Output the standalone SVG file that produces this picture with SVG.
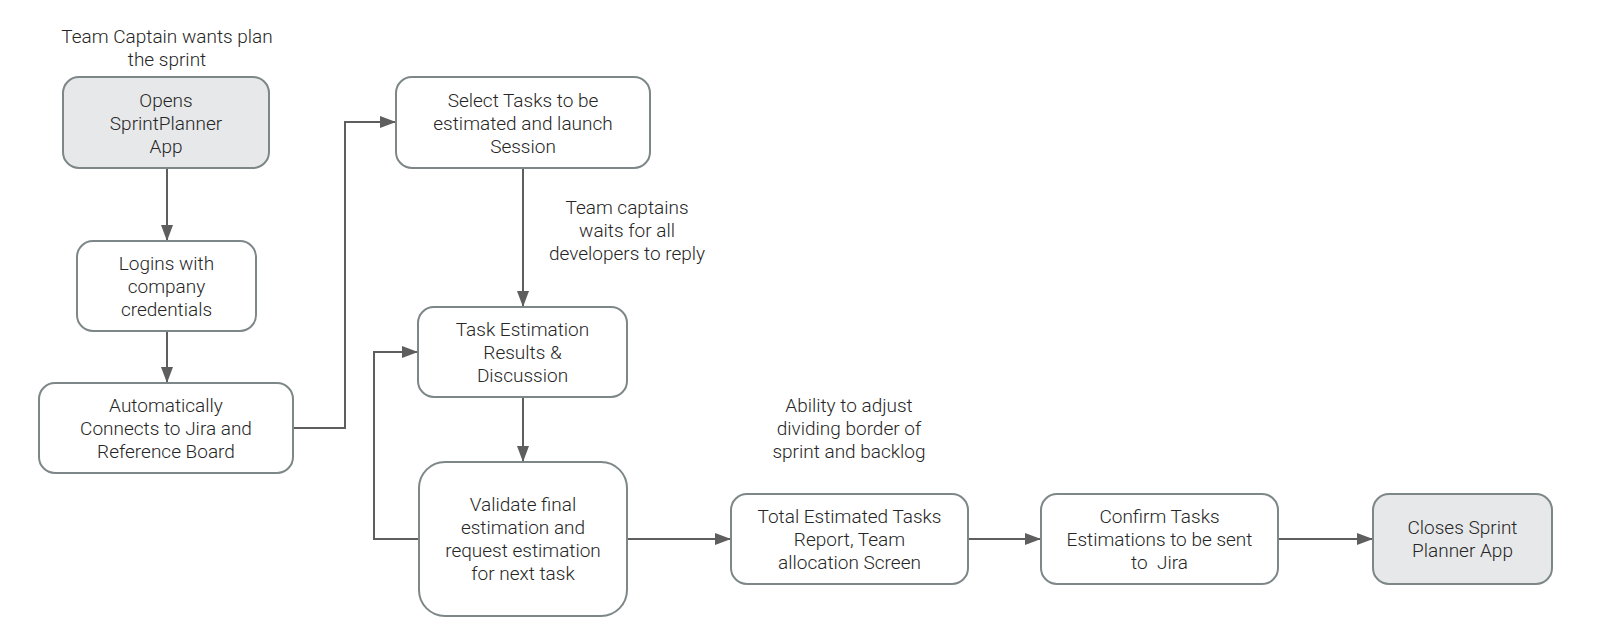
<svg xmlns="http://www.w3.org/2000/svg" width="1600" height="637" viewBox="0 0 1600 637">
<style>
.box{fill:#ffffff;stroke:#7e8788;stroke-width:2}
.gray{fill:#e6e8e9}
text{font-family:Roboto,"Liberation Sans",sans-serif;font-size:19px;font-weight:300;fill:#262626;text-anchor:middle}
.conn{fill:none;stroke:#5e5e5e;stroke-width:2}
</style>
<defs>
<marker id="ah" viewBox="0 0 16 12" refX="16" refY="6" markerWidth="16" markerHeight="12" markerUnits="userSpaceOnUse" orient="auto">
<path d="M0,0 L16,6 L0,12 Z" fill="#5e5e5e"/>
</marker>
</defs>
<rect width="1600" height="637" fill="#ffffff"/>
<g id="connectors">
<path class="conn" d="M167,168 V241" marker-end="url(#ah)"/>
<path class="conn" d="M167,331 V383" marker-end="url(#ah)"/>
<path class="conn" d="M293,428 H345 V122 H396" marker-end="url(#ah)"/>
<path class="conn" d="M523,168 V307" marker-end="url(#ah)"/>
<path class="conn" d="M523,397 V462" marker-end="url(#ah)"/>
<path class="conn" d="M419,539 H374 V352 H418" marker-end="url(#ah)"/>
<path class="conn" d="M627,539 H731" marker-end="url(#ah)"/>
<path class="conn" d="M968,539 H1041" marker-end="url(#ah)"/>
<path class="conn" d="M1278,539 H1373" marker-end="url(#ah)"/>
</g>
<g id="label-start">
<text x="167" y="43">Team Captain wants plan</text>
<text x="167" y="66">the sprint</text>
</g>
<g id="label-wait">
<text x="627" y="214">Team captains</text>
<text x="627" y="237">waits for all</text>
<text x="627" y="260">developers to reply</text>
</g>
<g id="label-adjust">
<text x="849" y="412">Ability to adjust</text>
<text x="849" y="435">dividing border of</text>
<text x="849" y="458">sprint and backlog</text>
</g>
<g id="n1">
<rect class="box gray" x="63" y="77" width="206" height="91" rx="16"/>
<text x="166" y="107">Opens</text>
<text x="166" y="130">SprintPlanner</text>
<text x="166" y="153">App</text>
</g>
<g id="n2">
<rect class="box" x="77" y="241" width="179" height="90" rx="16"/>
<text x="166.5" y="270">Logins with</text>
<text x="166.5" y="293">company</text>
<text x="166.5" y="316">credentials</text>
</g>
<g id="n3">
<rect class="box" x="39" y="383" width="254" height="90" rx="16"/>
<text x="166" y="412">Automatically</text>
<text x="166" y="435">Connects to Jira and</text>
<text x="166" y="458">Reference Board</text>
</g>
<g id="n4">
<rect class="box" x="396" y="77" width="254" height="91" rx="16"/>
<text x="523" y="107">Select Tasks to be</text>
<text x="523" y="130">estimated and launch</text>
<text x="523" y="153">Session</text>
</g>
<g id="n5">
<rect class="box" x="418" y="307" width="209" height="90" rx="16"/>
<text x="522.5" y="336">Task Estimation</text>
<text x="522.5" y="359">Results &amp;</text>
<text x="522.5" y="382">Discussion</text>
</g>
<g id="n6">
<rect class="box" x="419" y="462" width="208" height="154" rx="26"/>
<text x="523" y="511">Validate final</text>
<text x="523" y="534">estimation and</text>
<text x="523" y="557">request estimation</text>
<text x="523" y="580">for next task</text>
</g>
<g id="n7">
<rect class="box" x="731" y="494" width="237" height="90" rx="16"/>
<text x="849.5" y="523">Total Estimated Tasks</text>
<text x="849.5" y="546">Report, Team</text>
<text x="849.5" y="569">allocation Screen</text>
</g>
<g id="n8">
<rect class="box" x="1041" y="494" width="237" height="90" rx="16"/>
<text x="1159.5" y="523">Confirm Tasks</text>
<text x="1159.5" y="546">Estimations to be sent</text>
<text x="1159.5" y="569" xml:space="preserve">to  Jira</text>
</g>
<g id="n9">
<rect class="box gray" x="1373" y="494" width="179" height="90" rx="16"/>
<text x="1462.5" y="534">Closes Sprint</text>
<text x="1462.5" y="557">Planner App</text>
</g>
</svg>
